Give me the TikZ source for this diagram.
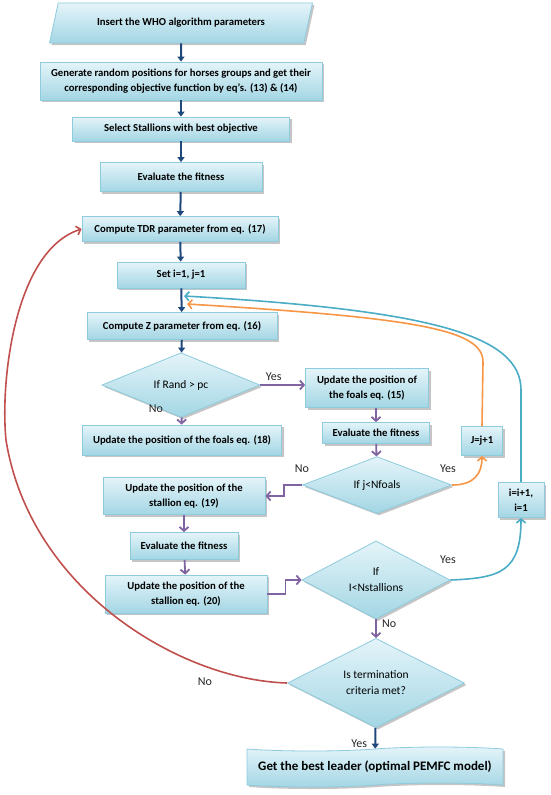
\documentclass[tikz,border=0pt]{standalone}
\usepackage{fontspec}
\setmainfont{Carlito}
\usetikzlibrary{arrows.meta, shapes.geometric, shapes.symbols, shadows, positioning}

\definecolor{boxtop}{HTML}{E4F4F9}
\definecolor{boxbot}{HTML}{A3D6E4}
\definecolor{boxline}{HTML}{8DCBDD}
\definecolor{navyline}{HTML}{1F497D}
\definecolor{purpleline}{HTML}{8064A2}
\definecolor{orangeline}{HTML}{F79646}
\definecolor{tealline}{HTML}{4BACC6}
\definecolor{redline}{HTML}{C0504D}

\tikzset{
  boxbase/.style={draw=boxline, line width=0.8pt, top color=boxtop, bottom color=boxbot,
    drop shadow={shadow xshift=2pt, shadow yshift=-2pt, fill=black!45, opacity=0.5},
    align=center, inner sep=1pt},
  proc/.style={boxbase, rectangle, font=\fontsize{10.7}{15}\selectfont\bfseries},
  io/.style={boxbase, trapezium, trapezium left angle=62, trapezium right angle=118,
    trapezium stretches=true, font=\fontsize{10.7}{15}\selectfont\bfseries},
  cond/.style={boxbase, diamond, inner sep=0pt, font=\fontsize{11.5}{16}\selectfont},
  result/.style={boxbase, tape, tape bend height=4pt, font=\fontsize{13}{15}\selectfont\bfseries},
  lbl/.style={font=\fontsize{12}{14}\selectfont, text=black!85},
  navyarrow/.style={draw=navyline, line width=2pt, -{Triangle[length=5pt, width=7pt]}},
  purplearrow/.style={draw=purpleline, line width=1.8pt, -{Straight Barb[length=4pt, width=9pt]}},
  looparrow/.style={line width=1.6pt, -{Straight Barb[length=4pt, width=9pt]}}
}

\begin{document}
\begin{tikzpicture}[x=1pt, y=-1pt]
\useasboundingbox (0,0) rectangle (550,795);

% main column
\node[io, minimum width=263pt, minimum height=40pt] (insert) at (181,23) {Insert the WHO algorithm parameters};
\node[proc, minimum width=282pt, minimum height=38pt] (gen) at (181,81)
  {Generate random positions for horses groups and get their\\corresponding objective function by eq's. (13) \& (14)};
\node[proc, minimum width=217pt, minimum height=24pt] (sel) at (181,129) {Select Stallions with best objective};
\node[proc, minimum width=162pt, minimum height=29pt] (eval1) at (181,177) {Evaluate the fitness};
\node[proc, minimum width=196pt, minimum height=25pt] (tdr) at (180,229) {Compute TDR parameter from eq. (17)};
\node[proc, minimum width=128pt, minimum height=26pt] (set) at (181,275) {Set i=1, j=1};
\node[proc, minimum width=190pt, minimum height=27pt] (compz) at (182,326) {Compute Z parameter from eq. (16)};
\node[cond, minimum width=158pt, minimum height=54pt] (rand) at (181,385) {If Rand > pc};
\node[proc, minimum width=199pt, minimum height=30pt] (foals18) at (182,440) {Update the position of the foals eq. (18)};

% foals branch
\node[proc, minimum width=123pt, minimum height=39pt] (foals15) at (367,388) {Update the position of\\the foals eq. (15)};
\node[proc, minimum width=107pt, minimum height=21pt] (eval2) at (376,433) {Evaluate the fitness};
\node[cond, minimum width=149pt, minimum height=55pt] (jcond) at (377,485) {If j<Nfoals};
\node[proc, minimum width=41pt, minimum height=29pt] (jinc) at (482,441) {J=j+1};

% stallion branch
\node[proc, minimum width=162pt, minimum height=37pt] (stal19) at (184,496) {Update the position of the\\stallion eq. (19)};
\node[proc, minimum width=108pt, minimum height=27pt] (eval3) at (184,546) {Evaluate the fitness};
\node[proc, minimum width=162pt, minimum height=38pt] (stal20) at (186,594) {Update the position of the\\stallion eq. (20)};
\node[cond, minimum width=148pt, minimum height=75pt] (icond) at (376,580) {If\\I<Nstallions};
\node[proc, minimum width=46pt, minimum height=35pt] (iinc) at (521,500) {i=i+1,\\i=1};

\node[cond, minimum width=177pt, minimum height=77pt] (term) at (376,683) {Is termination\\criteria met?};
\node[result, minimum width=256pt, minimum height=40pt] (leader) at (375,767) {Get the best leader (optimal PEMFC model)};

\coordinate (mergeB) at (184,296);
\coordinate (mergeO) at (187,304);

% straight flow
\draw[navyarrow] (insert) -- (gen);
\draw[navyarrow] (gen) -- (sel);
\draw[navyarrow] (sel) -- (eval1);
\draw[navyarrow] (eval1) -- (tdr);
\draw[navyarrow] (tdr) -- (set);
\draw[navyarrow] (set) -- (compz);
\draw[navyarrow] (compz) -- (rand);
\draw[navyarrow] (term) -- (leader) node[lbl, pos=0.75, left=4pt] {Yes};

\draw[purplearrow] (rand.east) -- (rand.east -| foals15.west) node[lbl, pos=0.3, above] {Yes};
\draw[purplearrow] (rand) -- (foals18);
\node[lbl] at (156,409) {No};
\draw[purplearrow] (eval2.north |- foals15.south) -- (eval2);
\draw[purplearrow] (eval2) -- (jcond);
\draw[purplearrow] (jcond.west) -- ++(-18,0) |- (stal19.east);
\node[lbl] at (302,469) {No};
\draw[purplearrow] (stal19) -- (eval3);
\draw[purplearrow] (eval3) -- (stal20);
\draw[purplearrow] (stal20.east) -- ++(18,0) |- (icond.west);
\draw[purplearrow] (icond) -- (term) node[lbl, pos=0.25, right=2pt] {No};

% loops
\draw[looparrow, orangeline] (jcond.east) .. controls (474,485) and (482,474) .. (jinc.south);
\node[lbl] at (448,469) {Yes};
\draw[looparrow, orangeline] (jinc.north) -- (483,362) .. controls (483,330) and (420,318) .. (mergeO);
\draw[looparrow, tealline] (icond.east) .. controls (500,578) and (521,572) .. (iinc.south);
\node[lbl] at (448,560) {Yes};
\draw[looparrow, tealline] (iinc.north) -- (521,390) .. controls (521,335) and (430,310) .. (mergeB);
\draw[looparrow, redline] (term.west) .. controls (180,680) and (30,590) .. (6,440)
  .. controls (0,380) and (15,250) .. (tdr.west);
\node[lbl] at (205,682) {No};
\end{tikzpicture}
\end{document}
